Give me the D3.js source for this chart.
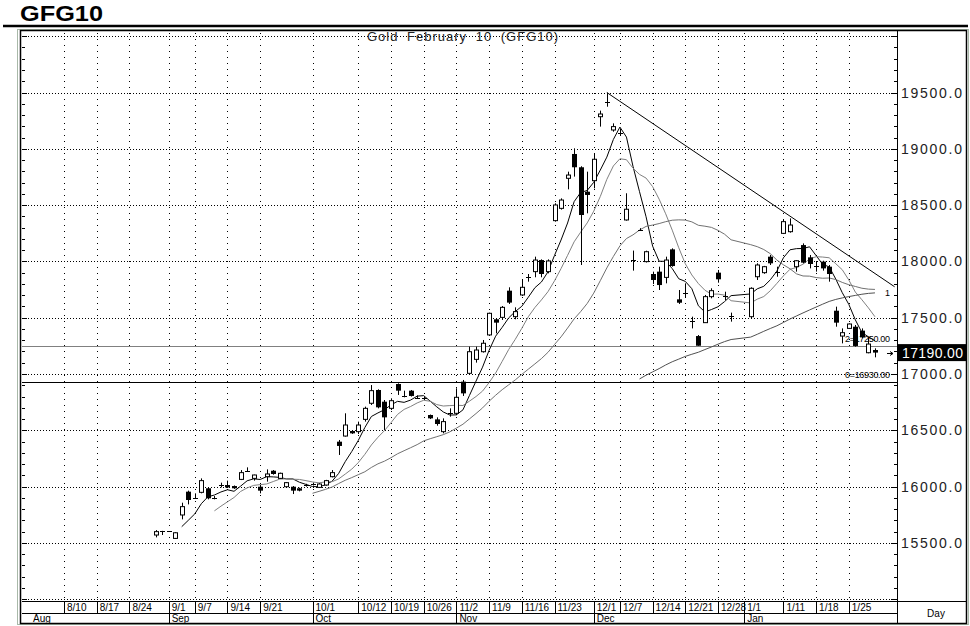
<!DOCTYPE html>
<html>
<head>
<meta charset="utf-8">
<script src="https://cdn.jsdelivr.net/npm/d3@7"></script>
<style>
  body { margin: 0; background: #fff; }
  svg { display: block; font-family: Arial, "Liberation Sans", sans-serif; }
</style>
</head>
<body>
<svg id="chart" width="970" height="626"></svg>
<script>
// ---- data ----
const dates = [
  '2009-08-28','2009-08-31','2009-09-01','2009-09-02','2009-09-03','2009-09-04','2009-09-07','2009-09-08','2009-09-09','2009-09-10',
  '2009-09-11','2009-09-14','2009-09-15','2009-09-16','2009-09-17','2009-09-18','2009-09-21','2009-09-22','2009-09-23','2009-09-24',
  '2009-09-25','2009-09-28','2009-09-29','2009-09-30','2009-10-01','2009-10-02','2009-10-05','2009-10-06','2009-10-07','2009-10-08',
  '2009-10-09','2009-10-12','2009-10-13','2009-10-14','2009-10-15','2009-10-16','2009-10-19','2009-10-20','2009-10-21','2009-10-22',
  '2009-10-23','2009-10-26','2009-10-27','2009-10-28','2009-10-29','2009-10-30','2009-11-02','2009-11-03','2009-11-04','2009-11-05','2009-11-06',
  '2009-11-09','2009-11-10','2009-11-11','2009-11-12','2009-11-13','2009-11-16','2009-11-17','2009-11-18','2009-11-19','2009-11-20',
  '2009-11-23','2009-11-24','2009-11-25','2009-11-26','2009-11-27','2009-11-30','2009-12-01','2009-12-02','2009-12-03','2009-12-04',
  '2009-12-07','2009-12-08','2009-12-09','2009-12-10','2009-12-11','2009-12-14','2009-12-15','2009-12-16','2009-12-17','2009-12-18','2009-12-21','2009-12-22',
  '2009-12-23','2009-12-24','2009-12-25','2009-12-28','2009-12-29','2009-12-30','2010-01-04','2010-01-05','2010-01-06','2010-01-07',
  '2010-01-08','2010-01-11','2010-01-12','2010-01-13','2010-01-14','2010-01-15','2010-01-18','2010-01-19','2010-01-20','2010-01-21',
  '2010-01-22','2010-01-25','2010-01-26','2010-01-27','2010-01-28','2010-01-29'
];
const open = [
  15570,15604,15600,15540,15748,15955,15898,15949,15985,15910,
  16012,16014,16005,16064,16143,16073,15999,16088,16141,16073,
  15999,15999,15985,16012,16021,15993,16014,16088,16399,16449,
  16494,16488,16597,16740,16858,16754,16695,16911,16803,16852,
  16800,16790,16636,16597,16488,16649,16651,16932,17006,17130,17198,
  17347,17486,17503,17740,17509,17702,17857,17909,18012,17909,
  18362,18471,18738,18954,18836,18619,18717,19285,19408,19167,
  19150,18368,18011,18284,17998,17888,17909,17858,18107,17663,17714,17463,
  17337,17456,17687,17900,17691,17513,17509,17864,17900,18042,
  17898,18249,18264,17953,18145,18036,17955,17998,17953,17562,
  17337,17405,17420,17385,17189,17213
];
const high = [
  15614,15607,15605,15595,15857,15964,15940,16073,15993,15916,
  16035,16053,16010,16147,16171,16106,16014,16153,16147,16124,
  16040,16005,15990,16025,16035,16030,16060,16147,16414,16651,
  16500,16577,16710,16902,16864,16769,16784,16917,16852,16858,
  16810,16799,16640,16615,16606,16695,16873,16947,17243,17243,17302,
  17545,17495,17604,17770,17592,17835,17888,18042,18018,18018,
  18516,18560,18797,19004,18845,18797,18954,19339,19499,19226,
  19180,18605,18096,18295,18095,17909,17953,18042,18116,17746,17805,17509,
  17346,17702,17761,17924,17731,17545,17770,17983,17960,18057,
  17953,18368,18382,18012,18160,18057,17998,18006,17968,17598,
  17405,17450,17435,17405,17331,17228
];
const low = [
  15549,15570,15597,15535,15709,15842,15893,15940,15887,15887,
  15993,15987,15980,16058,16138,16053,15940,16044,16106,16068,
  15995,15934,15958,16000,16010,15988,16008,16082,16281,16444,
  16468,16467,16577,16725,16695,16503,16680,16814,16793,16800,
  16780,16769,16600,16541,16473,16621,16636,16805,17000,17101,17190,
  17338,17361,17480,17622,17486,17693,17820,17859,17859,17894,
  18353,18460,18640,18753,17968,18427,18649,19197,19374,19152,
  19120,18362,17918,18270,17990,17799,17746,17805,17953,17622,17681,17405,
  17251,17456,17672,17811,17657,17465,17494,17835,17890,17968,
  17864,18243,18255,17909,17983,17938,17909,17918,17820,17420,
  17272,17400,17243,17317,17184,17148
];
const close = [
  15600,15606,15602,15590,15822,15881,15895,16053,15896,15902,
  16016,15993,15985,16124,16140,16103,15964,16112,16112,16118,
  16035,15964,15964,16016,16025,16023,16053,16124,16361,16547,
  16473,16547,16695,16852,16704,16615,16763,16852,16807,16805,
  16790,16785,16606,16556,16577,16653,16793,16828,17198,17213,17273,
  17539,17456,17592,17634,17554,17770,17861,18012,17888,18004,
  18501,18545,18767,18836,18412,18590,18907,19309,19412,19197,
  19140,18463,18015,18280,18086,17835,17790,18012,17959,17633,17718,17467,
  17251,17687,17740,17841,17695,17517,17761,17968,17953,17983,
  17902,18353,18323,18006,17989,17977,17963,17938,17888,17456,
  17367,17444,17249,17325,17266,17190
];

const tickDates = ['2009-08-10','2009-08-17','2009-08-24','2009-09-01','2009-09-07','2009-09-14','2009-09-21',
  '2009-10-01','2009-10-12','2009-10-19','2009-10-26','2009-11-02','2009-11-09','2009-11-16','2009-11-23',
  '2009-12-01','2009-12-07','2009-12-14','2009-12-21','2009-12-28','2010-01-01','2010-01-11','2010-01-18','2010-01-25'];
const monthStarts = ['2009-09-01','2009-10-01','2009-11-02','2009-12-01','2010-01-01'];
const monthLabels = ['Aug','Sep','Oct','Nov','Dec','Jan'];
const priceTicks = d3.range(15000, 20001, 500);
const priceLabels = d3.range(15500, 19501, 500);
const maPeriods = [5, 10, 25, 75];
const maColors = ['#000', '#808080', '#707070', '#505050'];
const levelValues = [17250, 16930];
const levelLabels = ['2=17250.00', '0=16930.00'];
const levelColors = ['#808080', '#000'];
const trendDates = ['2009-12-03', '2010-02-03'];
const trendValues = [19500, 17775];
const lastPrice = 17190;

// ---- layout ----
const svg = d3.select('#chart');
const P = { left: 22, right: 897, top: 31, bottom: 601 };
const parse = d3.timeParse('%Y-%m-%d');
const days = d3.timeDay.range(new Date(2009, 6, 31), new Date(2010, 1, 5))
  .filter(d => d.getDay() % 6 !== 0);
const dayIndex = new Map(days.map((d, i) => [+d, i]));
const idx = s => dayIndex.get(+parse(s));

const x = d3.scaleLinear().domain([-0.422, 133.37]).range([P.left, P.right]);
const y = d3.scaleLinear().domain([15000, 20000]).range([599.2, 36.2]);
const px = v => Math.round(v) + 0.5;

// title
svg.append('text').attr('x', 20).attr('y', 21)
  .attr('font-size', 22).attr('font-weight', 'bold')
  .attr('textLength', 83).attr('lengthAdjust', 'spacingAndGlyphs')
  .text('GFG10');
svg.append('line').attr('x1', 3).attr('x2', 968).attr('y1', 26).attr('y2', 26)
  .attr('stroke', '#000').attr('stroke-width', 2.5);

// frame
svg.append('rect').attr('x', 17.5).attr('y', 29.5).attr('width', 951).attr('height', 595)
  .attr('fill', 'none').attr('stroke', '#a8b8a8');
svg.append('rect').attr('x', 20.5).attr('y', 30.5).attr('width', 946).attr('height', 593)
  .attr('fill', 'none').attr('stroke', '#000').attr('stroke-width', 1.5);

svg.append('defs').append('clipPath').attr('id', 'clip')
  .append('rect').attr('x', P.left).attr('y', P.top).attr('width', P.right - P.left).attr('height', P.bottom - P.top);

const grid = svg.append('g');
grid.selectAll('line.h').data(priceTicks).join('line').attr('class', 'h')
  .attr('x1', P.left).attr('x2', P.right - 4)
  .attr('y1', d => px(y(d))).attr('y2', d => px(y(d)))
  .attr('stroke', '#000').attr('stroke-dasharray', '1,2');
grid.selectAll('line.v').data(tickDates).join('line').attr('class', 'v')
  .attr('x1', d => px(x(idx(d)))).attr('x2', d => px(x(idx(d))))
  .attr('y1', P.top + 2).attr('y2', P.bottom)
  .attr('stroke', '#000').attr('stroke-dasharray', '1,5');

// left + right minor ticks
const minor = d3.range(15000, 20001, 100).filter(v => y(v) > P.top);
svg.append('g').selectAll('line').data(minor).join('line')
  .attr('x1', P.left).attr('x2', d => P.left + (d % 500 ? 3 : 5))
  .attr('y1', d => px(y(d))).attr('y2', d => px(y(d))).attr('stroke', '#000');
svg.append('g').selectAll('line').data(minor).join('line')
  .attr('x1', d => P.right - (d % 500 ? 3 : 6)).attr('x2', P.right)
  .attr('y1', d => px(y(d))).attr('y2', d => px(y(d))).attr('stroke', '#000');

// chart caption
svg.append('text').attr('x', 367).attr('y', 41).attr('font-size', 13).attr('fill', '#222')
  .attr('letter-spacing', 1).attr('word-spacing', 4).text('Gold February 10 (GFG10)');

const plot = svg.append('g').attr('clip-path', 'url(#clip)');

// horizontal levels + labels (under the candles)
levelValues.forEach((v, i) => {
  plot.append('line').attr('x1', P.left).attr('x2', P.right)
    .attr('y1', px(y(v))).attr('y2', px(y(v)))
    .attr('stroke', levelColors[i]).attr('stroke-width', 1.2);
  plot.append('text').attr('x', 890).attr('y', y(v) - 4).attr('text-anchor', 'end')
    .attr('font-size', 9).attr('textLength', 45).text(levelLabels[i]);
});

// moving averages
const bars = dates.map((d, i) => ({ i: idx(d), o: open[i], h: high[i], l: low[i], c: close[i] }));
maPeriods.forEach((p, j) => {
  const pts = bars.slice(p - 1).map((b, k) => ({ i: b.i, v: d3.mean(close.slice(k, k + p)) }));
  plot.append('path').datum(pts)
    .attr('fill', 'none').attr('stroke', maColors[j]).attr('stroke-width', 1)
    .attr('d', d3.line().x(d => x(d.i)).y(d => y(d.v)));
});

// trend line
plot.append('line')
  .attr('x1', x(idx(trendDates[0]))).attr('y1', y(trendValues[0]))
  .attr('x2', x(idx(trendDates[1]))).attr('y2', y(trendValues[1]))
  .attr('stroke', '#000').attr('stroke-width', 1);
svg.append('text').attr('x', 885).attr('y', y(trendValues[1]) + 9).attr('font-size', 9).text('1');

// candles
const cg = plot.append('g');
bars.forEach(b => {
  const cx = Math.round(x(b.i));
  cg.append('line').attr('x1', cx + 0.5).attr('x2', cx + 0.5)
    .attr('y1', y(b.h)).attr('y2', y(b.l)).attr('stroke', '#000');
  const top = y(Math.max(b.o, b.c)), bot = y(Math.min(b.o, b.c));
  if (bot - top < 1.5) {
    cg.append('line').attr('x1', cx - 2).attr('x2', cx + 3)
      .attr('y1', px(y(b.c))).attr('y2', px(y(b.c))).attr('stroke', '#000');
  } else if (b.c >= b.o) {
    cg.append('rect').attr('x', cx - 1.5).attr('y', top).attr('width', 4).attr('height', bot - top)
      .attr('fill', '#fff').attr('stroke', '#000');
  } else {
    cg.append('rect').attr('x', cx - 2).attr('y', top).attr('width', 5).attr('height', bot - top)
      .attr('fill', '#000');
  }
});

// right price axis
svg.append('line').attr('x1', P.right + 0.5).attr('x2', P.right + 0.5).attr('y1', P.top).attr('y2', 624)
  .attr('stroke', '#000');
svg.append('g').selectAll('text').data(priceLabels).join('text')
  .attr('x', 901).attr('y', d => y(d) + 5).attr('font-size', 14).attr('fill', '#222')
  .attr('textLength', 61).text(d => d.toFixed(1));
svg.append('rect').attr('x', P.right + 1).attr('y', y(lastPrice) - 8.5).attr('width', 68).attr('height', 17)
  .attr('fill', '#000');
svg.append('text').attr('x', 902).attr('y', y(lastPrice) + 5).attr('font-size', 14).attr('fill', '#fff')
  .attr('textLength', 61).text(lastPrice.toFixed(2));
svg.append('path').attr('d', `M887,${px(y(lastPrice))}H893M890,${px(y(lastPrice)) - 2}L893,${px(y(lastPrice))}L890,${px(y(lastPrice)) + 2}`)
  .attr('stroke', '#000').attr('fill', 'none');

// bottom date axis
const axisG = svg.append('g');
axisG.append('line').attr('x1', P.left).attr('x2', 967).attr('y1', P.bottom + 0.5).attr('y2', P.bottom + 0.5).attr('stroke', '#000');
axisG.append('line').attr('x1', P.left).attr('x2', P.right).attr('y1', 613.5).attr('y2', 613.5).attr('stroke', '#000');
axisG.selectAll('line.sep').data(tickDates).join('line').attr('class', 'sep')
  .attr('x1', d => px(x(idx(d)))).attr('x2', d => px(x(idx(d))))
  .attr('y1', P.bottom).attr('y2', d => monthStarts.includes(d) ? 624 : 613.5)
  .attr('stroke', '#000');
const fmt = d3.timeFormat('%-m/%-d');
axisG.selectAll('text.d').data(tickDates).join('text').attr('class', 'd')
  .attr('x', d => x(idx(d)) + 3).attr('y', 611).attr('font-size', 10)
  .text(d => fmt(parse(d)));
axisG.selectAll('text.m').data(monthLabels).join('text').attr('class', 'm')
  .attr('x', (d, i) => i === 0 ? 33 : x(idx(monthStarts[i - 1])) + 3).attr('y', 622).attr('font-size', 10)
  .text(d => d);
axisG.append('text').attr('x', 936).attr('y', 617).attr('font-size', 10).attr('text-anchor', 'middle').text('Day');
</script>
</body>
</html>
